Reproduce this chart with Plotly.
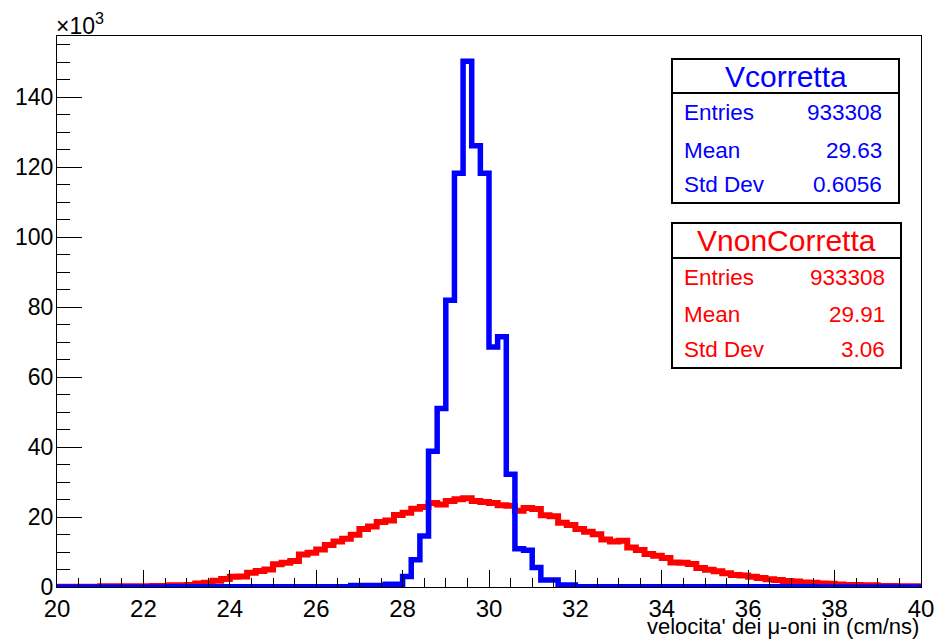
import plotly.graph_objects as go

# ---- data ----
x_min = 20.0
bin_width = 0.2
n_bins = 100

v_corretta = [
    0, 0, 0, 0, 0, 0, 0, 0, 0, 0,
    0, 0, 0, 0.1, 0.1, 0.1, 0.1, 0.1, 0.1, 0.1,
    0.1, 0.1, 0.1, 0.1, 0.1, 0.1, 0.1, 0.1, 0.1, 0.1,
    0.1, 0.1, 0.1, 0.1, 0.4, 0.4, 0.4, 0.4, 0.8, 0.8,
    3.0, 7.8, 14.6, 38.8, 51.0, 82.0, 118.3, 150.3, 126.1, 118.3,
    68.6, 71.5, 32.2, 10.9, 10.5, 5.6, 2.0, 2.0, 0.6, 0.6,
    0.1, 0.1, 0.1, 0.1, 0.1, 0.1, 0.1, 0.1, 0.1, 0.1,
    0.1, 0.1, 0.1, 0.1, 0.1, 0.1, 0.1, 0.1, 0.1, 0.1,
    0.1, 0.1, 0.1, 0.1, 0.1, 0.1, 0.1, 0.1, 0, 0,
    0, 0, 0, 0, 0, 0, 0, 0, 0, 0,
]

v_non_corretta = [
    0.1, 0.1, 0.1, 0.1, 0.1, 0.2, 0.2, 0.2, 0.2, 0.2,
    0.2, 0.3, 0.3, 0.5, 0.5, 0.6, 1.0, 1.2, 1.8, 2.3,
    2.9, 3.0, 4.1, 4.6, 5.0, 6.5, 6.9, 7.4, 9.3, 9.8,
    10.7, 12.0, 13.0, 13.8, 14.9, 16.6, 17.3, 18.6, 19.0, 20.6,
    21.2, 22.4, 22.9, 24.0, 23.6, 24.6, 25.1, 25.4, 24.6, 24.3,
    24.0, 23.4, 23.2, 21.8, 22.6, 22.3, 20.5, 20.2, 18.4, 17.7,
    16.6, 15.8, 15.1, 13.6, 13.0, 13.2, 11.3, 10.6, 9.4, 8.9,
    8.3, 7.0, 6.9, 6.6, 5.4, 4.9, 4.5, 3.9, 3.4, 3.3,
    2.9, 2.6, 2.2, 2.0, 1.7, 1.6, 1.3, 1.2, 1.0, 0.9,
    0.7, 0.6, 0.6, 0.5, 0.5, 0.3, 0.3, 0.2, 0.2, 0.2,
]

stats_corretta = {"name": "Vcorretta", "Entries": "933308", "Mean": "29.63", "Std Dev": "0.6056"}
stats_non_corretta = {"name": "VnonCorretta", "Entries": "933308", "Mean": "29.91", "Std Dev": "3.06"}

x_ticks = list(range(20, 41, 2))
y_ticks = list(range(0, 141, 20))
x_title = "velocita' dei \u03bc-oni in (cm/ns)"

# ---- build ----
edges = [x_min + bin_width * i for i in range(n_bins + 1)]

def step_trace(vals, color, width):
    return go.Scatter(
        x=edges, y=list(vals) + [vals[-1]], mode="lines",
        line=dict(color=color, width=width, shape="hv"),
        hoverinfo="skip", showlegend=False,
    )

BLUE = "#0000ff"
RED = "#ff0000"
FONT = "Liberation Sans, Arial, Helvetica, sans-serif"

fig = go.Figure()
fig.add_trace(step_trace(v_non_corretta, RED, 6))
fig.add_trace(step_trace(v_corretta, BLUE, 5.5))

L, R, T, B = 57, 921, 36, 587
W, H = 939, 639

def px(xp):
    return (xp - L) / (R - L)

def py(yp):
    return (B - yp) / (B - T)

fig.update_layout(
    template="none",
    width=W, height=H,
    margin=dict(l=L, r=W - R, t=T, b=H - B, pad=0, autoexpand=False),
    paper_bgcolor="white", plot_bgcolor="white",
    font=dict(family=FONT, size=22, color="black"),
    showlegend=False, hovermode=False,
)

fig.update_xaxes(
    automargin=False,
    range=[20, 40], tickvals=x_ticks, ticktext=[str(v) for v in x_ticks],
    ticks="inside", ticklen=17, tickwidth=1, tickcolor="black",
    showline=True, linecolor="black", linewidth=1, mirror=True,
    showgrid=False, zeroline=False,
    minor=dict(dtick=0.5, tick0=20, ticks="inside", ticklen=9, tickwidth=1,
               tickcolor="black", showgrid=False),
    tickfont=dict(size=24, family=FONT, color="black"),
)
fig.update_yaxes(
    automargin=False,
    range=[0, 157.5], tickvals=y_ticks, ticktext=[str(v) for v in y_ticks],
    ticks="inside", ticklen=25, tickwidth=1, tickcolor="black",
    showline=True, linecolor="black", linewidth=1, mirror=True,
    showgrid=False, zeroline=False,
    ticklabelstandoff=-2,
    minor=dict(dtick=5, tick0=0, ticks="inside", ticklen=13, tickwidth=1,
               tickcolor="black", showgrid=False),
    tickfont=dict(size=23, family=FONT, color="black"),
)

shapes = []
annotations = []

def stats_box(st, color, x0, x1, y0, ysep, y1, rows_y, val_right):
    shapes.append(dict(type="rect", xref="paper", yref="paper",
                       x0=px(x0), x1=px(x1), y0=py(y1), y1=py(y0),
                       line=dict(color="black", width=2), fillcolor="white", layer="above"))
    shapes.append(dict(type="line", xref="paper", yref="paper",
                       x0=px(x0), x1=px(x1), y0=py(ysep), y1=py(ysep),
                       line=dict(color="black", width=2), layer="above"))
    annotations.append(dict(xref="paper", yref="paper", x=px((x0 + x1) / 2), y=py((y0 + ysep) / 2),
                            text=st["name"], showarrow=False, xanchor="center", yanchor="middle",
                            font=dict(color=color, size=30, family=FONT)))
    for key, yy in zip(["Entries", "Mean", "Std Dev"], rows_y):
        annotations.append(dict(xref="paper", yref="paper", x=px(x0 + 10), y=py(yy),
                                text=key, showarrow=False, xanchor="left", yanchor="middle",
                                font=dict(color=color, size=22.5, family=FONT)))
        annotations.append(dict(xref="paper", yref="paper", x=px(val_right), y=py(yy),
                                text=st[key], showarrow=False, xanchor="right", yanchor="middle",
                                font=dict(color=color, size=22.5, family=FONT)))

stats_box(stats_corretta, BLUE, 672, 899, 59, 93, 203, [113, 150, 185], 884)
stats_box(stats_non_corretta, RED, 672, 901, 223, 258, 368, [277, 314, 349], 887)

annotations.append(dict(xref="paper", yref="paper", x=1, y=0, xanchor="right", yanchor="top",
                        yshift=-25, text=x_title, showarrow=False,
                        font=dict(size=22, family=FONT, color="black")))
annotations.append(dict(xref="paper", yref="paper", x=0, y=1, xanchor="left", yanchor="bottom",
                        xshift=-3, yshift=-5, text="\u00d710<sup>3</sup>", showarrow=False,
                        font=dict(size=23, family=FONT, color="black")))

fig.update_layout(shapes=shapes, annotations=annotations)

fig.write_html("out.html", config={"displayModeBar": False},
               post_script="document.body.style.margin='0px';")
